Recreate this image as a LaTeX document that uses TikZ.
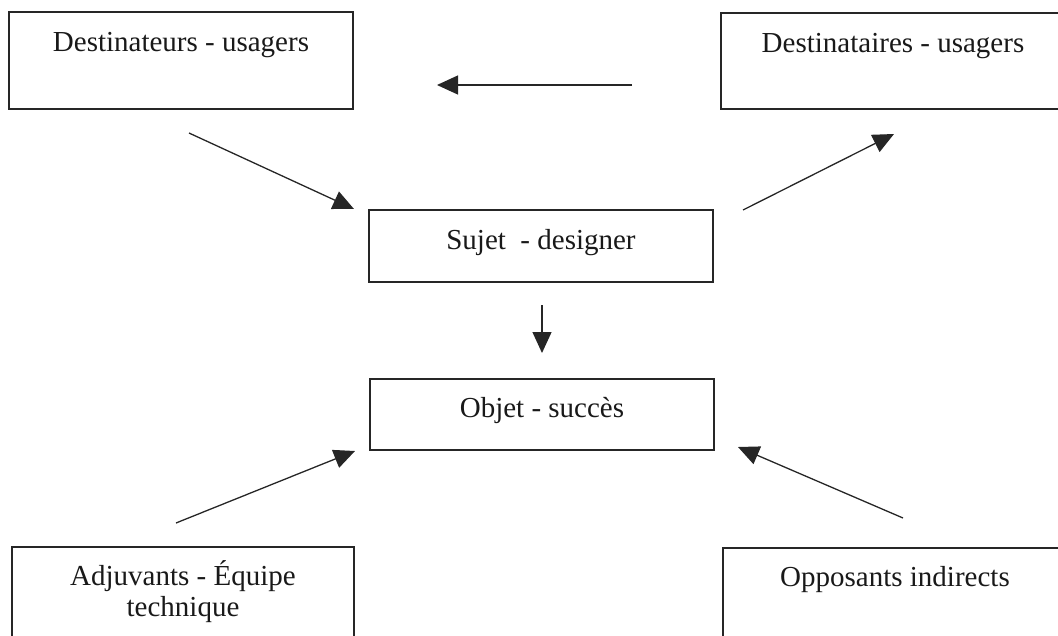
\documentclass[tikz,border=0pt]{standalone}
\usepackage{fontspec}
\setmainfont{Liberation Serif}
\usetikzlibrary{arrows.meta}

\tikzset{
  box/.style={draw=black!85, line width=1.2pt, rectangle, inner sep=0pt,
              minimum width=344pt},
  txt/.style={inner sep=0pt, text=black!90, font=\fontsize{29}{30}\selectfont,
              align=center},
  arr/.style={draw=black!85, line width=1.3pt,
              -{Triangle[length=21pt,width=19pt]}},
}

\begin{document}
\begin{tikzpicture}[x=1pt,y=-1pt]
  \useasboundingbox (0,0) rectangle (1058,635);
  \clip (0,0) rectangle (1058,635);

  % the six actant boxes
  \node[box, minimum height=97pt] (dst) at (181,60.5) {};
  \node[box, minimum height=96pt] (dsa) at (893,61) {};
  \node[box, minimum height=72pt] (suj) at (541,246) {};
  \node[box, minimum height=71pt] (obj) at (542,414.5) {};
  \node[box, minimum width=342pt, minimum height=98pt] (adj) at (183,596) {};
  \node[box, minimum height=98pt] (opp) at (895,597) {};

  % box captions, set on a baseline about 40pt below each top edge
  \node[txt, anchor=base] (dstT) at ([yshift=-40pt]dst.north) {Destinateurs - usagers};
  \node[txt, anchor=base] (dsaT) at ([yshift=-40pt]dsa.north) {Destinataires - usagers};
  \node[txt, anchor=base] (sujT) at ([yshift=-40pt]suj.north) {Sujet \ - designer};
  \node[txt, anchor=base] (objT) at ([yshift=-39pt]obj.north) {Objet - succès};
  \node[txt, anchor=north, font=\fontsize{29}{30.5}\selectfont]
    (adjT) at ([yshift=-14pt]adj.north) {Adjuvants - Équipe\\technique};
  \node[txt, anchor=base] (oppT) at ([yshift=-39pt]opp.north) {Opposants indirects};

  % free ends of the floating arrows
  \coordinate (hTail) at (632,85);
  \coordinate (hTip)  at (437,85);
  \coordinate (aTail) at (189,133);
  \coordinate (aTip)  at (354,209);
  \coordinate (bTail) at (743,210);
  \coordinate (bTip)  at (894,134);
  \coordinate (cTail) at (542,305);
  \coordinate (cTip)  at (542,353);
  \coordinate (dTail) at (176,523);
  \coordinate (dTip)  at (355,451);
  \coordinate (eTail) at (903,518);
  \coordinate (eTip)  at (738,447);

  \draw[arr] (hTail) -- (hTip);
  \draw[arr] (aTail) -- (aTip);
  \draw[arr] (bTail) -- (bTip);
  \draw[arr] (cTail) -- (cTip);
  \draw[arr] (dTail) -- (dTip);
  \draw[arr] (eTail) -- (eTip);
\end{tikzpicture}
\end{document}
